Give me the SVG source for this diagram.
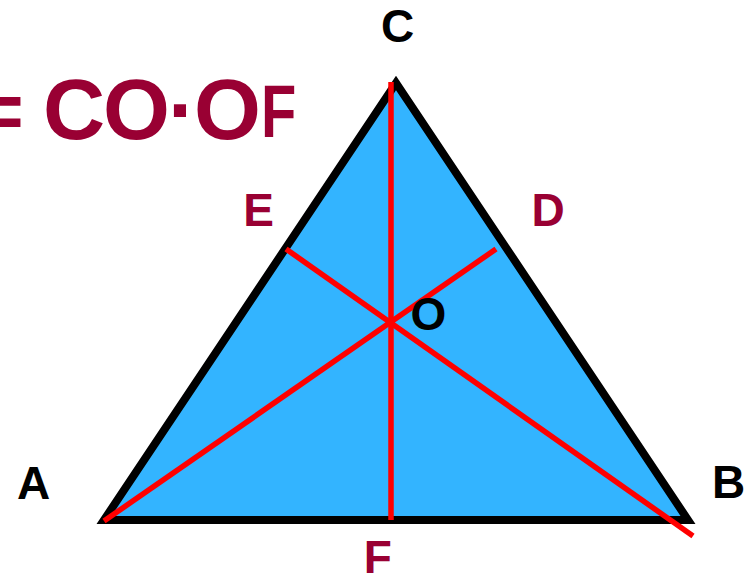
<svg xmlns="http://www.w3.org/2000/svg" width="753" height="573" viewBox="0 0 753 573">
<style>
.lbl{font-family:"Liberation Sans",Arial,sans-serif;font-weight:bold;font-size:46px;text-anchor:middle}
.blk{fill:#000}
.red{fill:#990033}
.eq{font-family:"Liberation Sans",Arial,sans-serif;font-weight:bold;fill:#990033}
.seg{stroke:#FF0000;stroke-width:5.5;fill:none}
</style>
<g id="formula">
<text class="eq" font-size="80" x="-23" y="138">=</text>
<text class="eq" font-size="86" y="139"><tspan x="43">C</tspan><tspan x="103">O</tspan><tspan x="168">·</tspan><tspan x="194">O</tspan></text>
<text class="eq" font-size="74" transform="translate(261,137) scale(0.78,1)" x="0" y="0">F</text>
</g>
<g id="triangle">
<polygon points="104,520 688,520 396,83" fill="#33B4FF" stroke="#000" stroke-width="8" stroke-linejoin="miter"/>
</g>
<g id="connectors">
<line class="seg" x1="391" y1="82" x2="391" y2="520"/>
<line class="seg" x1="104" y1="521" x2="496" y2="249"/>
<line class="seg" x1="286" y1="249" x2="693" y2="536"/>
</g>
<g id="node-C"><text class="lbl blk" x="397.5" y="42">C</text></g>
<g id="node-A"><text class="lbl blk" x="33.5" y="499">A</text></g>
<g id="node-B"><text class="lbl blk" x="728.5" y="498">B</text></g>
<g id="node-E"><text class="lbl red" x="258.5" y="226">E</text></g>
<g id="node-D"><text class="lbl red" x="548" y="226">D</text></g>
<g id="node-O"><text class="lbl blk" x="428.5" y="330">O</text></g>
<g id="node-F"><text class="lbl red" x="377.7" y="573">F</text></g>
</svg>
